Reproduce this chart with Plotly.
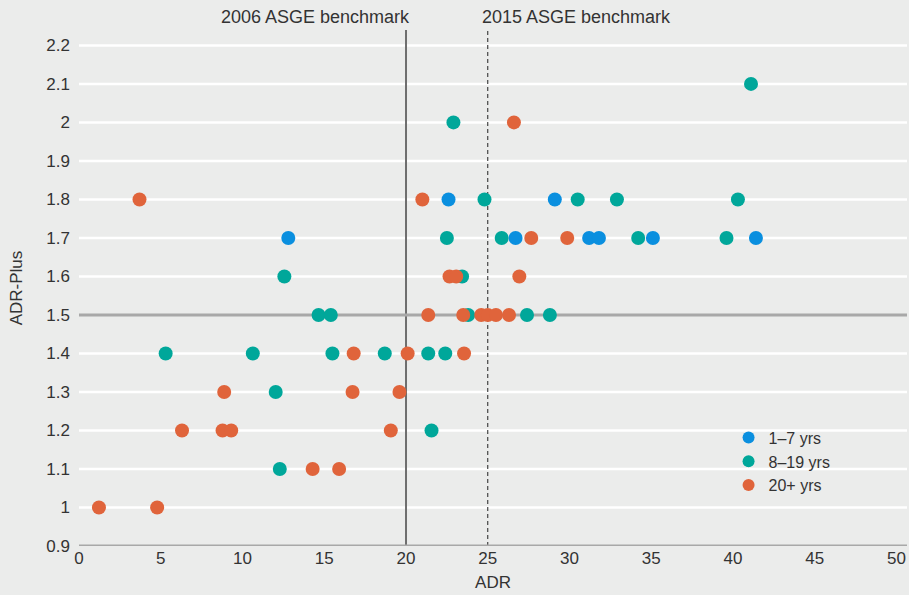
import plotly.graph_objects as go

# ---- data ----
blue_x = [12.8, 22.6, 29.1, 26.7, 31.2, 31.8, 35.1, 41.4]
blue_y = [1.7, 1.8, 1.8, 1.7, 1.7, 1.7, 1.7, 1.7]

teal_x = [41.1, 22.9, 24.8, 30.5, 32.9, 40.3, 22.5, 25.85, 34.2, 39.6,
          12.56, 23.43, 14.65, 15.4, 23.8, 27.4, 28.8,
          5.3, 10.63, 15.5, 18.7, 21.36, 22.4, 12.03, 21.56, 12.28]
teal_y = [2.1, 2.0, 1.8, 1.8, 1.8, 1.8, 1.7, 1.7, 1.7, 1.7,
          1.6, 1.6, 1.5, 1.5, 1.5, 1.5, 1.5,
          1.4, 1.4, 1.4, 1.4, 1.4, 1.4, 1.3, 1.2, 1.1]

orange_x = [26.6, 3.7, 21.0, 27.66, 29.86, 22.66, 23.07, 26.93,
            21.36, 23.5, 24.6, 25.0, 25.5, 26.3,
            16.8, 20.1, 23.55, 8.88, 16.73, 19.6,
            6.3, 8.78, 9.31, 19.07, 14.29, 15.91, 1.22, 4.78]
orange_y = [2.0, 1.8, 1.8, 1.7, 1.7, 1.6, 1.6, 1.6,
            1.5, 1.5, 1.5, 1.5, 1.5, 1.5,
            1.4, 1.4, 1.4, 1.3, 1.3, 1.3,
            1.2, 1.2, 1.2, 1.2, 1.1, 1.1, 1.0, 1.0]

series_names = ["1\u20137 yrs", "8\u201319 yrs", "20+ yrs"]
series_colors = ["#0a8fdf", "#00a79a", "#e0643b"]

benchmark_2006 = 20
benchmark_2015 = 25
adr_plus_ref = 1.5

x_ticks = [0, 5, 10, 15, 20, 25, 30, 35, 40, 45, 50]
y_ticks = [0.9, 1.0, 1.1, 1.2, 1.3, 1.4, 1.5, 1.6, 1.7, 1.8, 1.9, 2.0, 2.1, 2.2]
y_tick_text = ["0.9", "1", "1.1", "1.2", "1.3", "1.4", "1.5", "1.6", "1.7",
               "1.8", "1.9", "2", "2.1", "2.2"]

FONT = "Liberation Sans, Arial, sans-serif"
TXT = "#333333"
BG = "#ebeceb"
GREY = "#a8a8a8"

fig = go.Figure()
for xs, ys, name, col in zip([blue_x, teal_x, orange_x], [blue_y, teal_y, orange_y],
                             series_names, series_colors):
    fig.add_trace(go.Scatter(x=xs, y=ys, mode="markers", name=name,
                             marker=dict(color=col, size=14, line=dict(width=0))))

# white horizontal grid lines at the y ticks (except the axis and reference line)
for yv in y_ticks:
    if yv in (y_ticks[0], adr_plus_ref):
        continue
    fig.add_shape(type="line", xref="paper", yref="y", x0=0, x1=1, y0=yv, y1=yv,
                  line=dict(color="#ffffff", width=2.5), layer="below")

# reference lines
fig.add_shape(type="line", xref="x", yref="paper", x0=benchmark_2006, x1=benchmark_2006,
              y0=0, y1=1, line=dict(color="#6e6e6e", width=2), layer="between")
fig.add_shape(type="line", xref="x", yref="paper", x0=benchmark_2015, x1=benchmark_2015,
              y0=0, y1=1, line=dict(color="#222222", width=1, dash="4px,3px"),
              layer="between")
fig.add_shape(type="line", xref="paper", yref="y", x0=0, x1=1,
              y0=adr_plus_ref, y1=adr_plus_ref, line=dict(color=GREY, width=3),
              layer="between")
# bottom axis line at y=0.9
fig.add_shape(type="line", xref="paper", yref="y", x0=0, x1=1, y0=y_ticks[0], y1=y_ticks[0],
              line=dict(color=GREY, width=3), layer="between")

fig.add_annotation(x=benchmark_2006, y=1, xref="x", yref="paper", yanchor="bottom",
                   xanchor="right", xshift=6, yshift=1, text="2006 ASGE benchmark",
                   showarrow=False, font=dict(family=FONT, size=18, color=TXT))
fig.add_annotation(x=benchmark_2015, y=1, xref="x", yref="paper", yanchor="bottom",
                   xanchor="left", xshift=-8, yshift=1, text="2015 ASGE benchmark",
                   showarrow=False, font=dict(family=FONT, size=18, color=TXT))

fig.update_layout(
    width=909, height=595,
    margin=dict(l=79, r=2, t=30, b=49),
    paper_bgcolor=BG, plot_bgcolor=BG,
    font=dict(family=FONT, size=17, color=TXT),
    showlegend=True,
    legend=dict(x=0.7845, y=0.243, xanchor="left", yanchor="top",
                bgcolor="rgba(0,0,0,0)", font=dict(family=FONT, size=16, color=TXT),
                itemsizing="constant", tracegroupgap=0, itemwidth=30),
    xaxis=dict(range=[0, 50.64], tickvals=x_ticks, showgrid=False, zeroline=False,
               showline=False, ticks="", automargin=False,
               title=dict(text="ADR", standoff=9, font=dict(size=17)),
               tickfont=dict(size=17)),
    yaxis=dict(range=[0.9, 2.24], tickvals=y_ticks, ticktext=y_tick_text,
               showgrid=False, zeroline=False,
               showline=False, ticks="", ticklabelstandoff=8, automargin=False,
               title=dict(text="ADR-Plus", standoff=19, font=dict(size=17)),
               tickfont=dict(size=17)),
)

fig.write_html("out.html", config={"displayModeBar": False},
               post_script="document.body.style.margin='0';document.body.style.background='#ebeceb';")
